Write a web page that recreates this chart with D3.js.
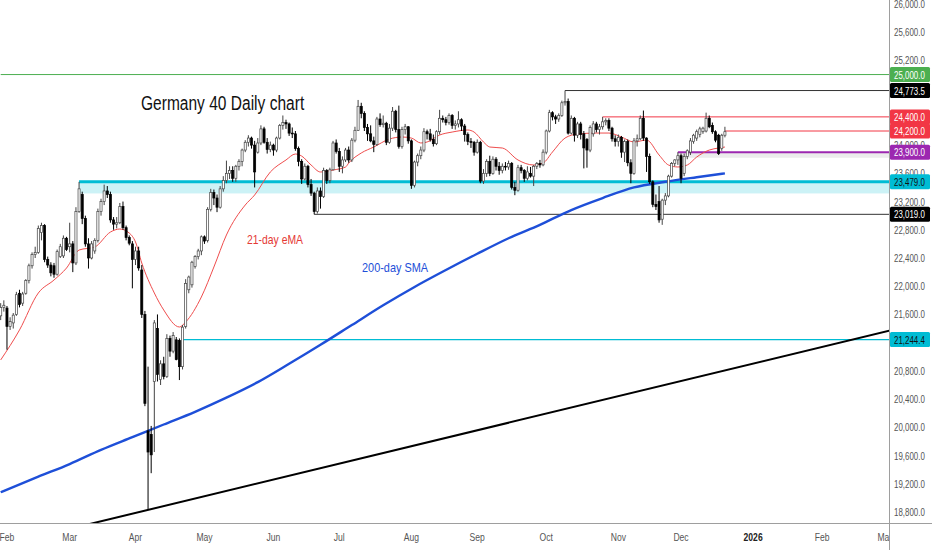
<html>
<head>
<script src="https://d3js.org/d3.v7.min.js"></script>
<style>
  body { margin: 0; background: #fff; }
  svg text { font-family: "Liberation Sans", Arial, sans-serif; }
</style>
</head>
<body>
<svg id="chart" width="932" height="550"></svg>
<script>
// ---- data ----
// daily bars, Jan 30 2025 .. Dec 19 2025 (one row per weekday): open, high, low, close
const ohlc = [
  // Jan / Feb
  [21580,21760,21520,21700],[21700,21800,21640,21730],
  [21690,21720,21100,21430],[21430,21560,21380,21500],[21480,21620,21400,21590],[21600,21920,21580,21880],[21900,21950,21700,21740],
  [21760,21920,21720,21890],[21900,22100,21880,22080],[22080,22320,22040,22290],[22290,22480,22250,22450],[22450,22560,22400,22480],
  [22480,22860,22460,22820],[22760,22900,22650,22860],[22860,22880,22340,22380],[22380,22420,22260,22300],[22300,22340,22140,22190],
  [22290,22330,22120,22170],[22170,22520,22150,22490],[22420,22600,22400,22560],[22430,22720,22400,22680],[22680,22700,22500,22520],
  // Mar
  [22560,22900,22480,22600],[22600,22640,22200,22330],[22330,23120,22300,23060],[23060,23479,23040,23380],[23300,23340,22880,22960],
  [22960,23000,22560,22600],[22600,22680,22250,22400],[22400,22640,22380,22600],[22500,22680,22460,22650],[22650,23100,22620,23060],
  [23060,23240,23000,23200],[23200,23440,23150,23350],[23350,23420,23250,23300],[23300,23340,22900,22940],[22940,22980,22800,22880],
  [22880,22980,22820,22900],[22900,23180,22880,23130],[23130,23200,22800,22830],[22830,22860,22650,22690],[22690,22720,22580,22610],
  [22600,22640,21970,22380],
  // Apr
  [22380,22560,22300,22500],[22500,22560,22220,22260],[22230,22300,21550,21600],[21600,21650,20300,20340],
  [19950,20860,18830,19650],[19900,20020,19350,19610],[20650,21520,19650,21480],[21400,21600,20650,20750],[20680,20950,20600,20900],
  [20900,21000,20680,20720],[20720,21320,20700,21260],[21260,21300,21000,21080],[21080,21350,21050,21300],[21240,21280,20950,20960],
  [21230,21260,20670,20860],[20860,21450,20820,21420],[21430,22100,21400,22040],[21950,22150,21900,22130],[22020,22360,21980,22340],
  [22280,22440,22250,22420],[22420,22530,22380,22500],[22500,22720,22440,22700],
  // May
  [22700,22720,22600,22640],[22650,23120,22620,23090],
  [23090,23380,23060,23330],[23330,23370,23150,23250],[23250,23300,23050,23120],[23120,23420,23100,23380],[23380,23560,23340,23500],
  [23500,23780,23460,23600],[23600,23700,23520,23640],[23640,23700,23480,23530],[23530,23720,23480,23700],[23700,23800,23640,23770],
  [23770,23950,23700,23930],[23930,24070,23900,24040],[24040,24140,23980,24100],[24100,24120,23950,24000],[24000,24060,23400,23620],
  [23900,24100,23880,24030],[24030,24280,24000,24230],[24230,24260,24020,24040],[24040,24100,23880,23940],[23940,24050,23900,24000],
  // Jun
  [24000,24020,23850,23930],[23930,24120,23900,24100],[24100,24300,24080,24280],[24280,24420,24220,24320],[24320,24360,24230,24300],
  [24300,24320,24130,24170],[24170,24250,24100,24160],[24160,24200,23920,23950],[23950,23980,23700,23770],[23770,23800,23450,23520],
  [23520,23740,23500,23700],[23700,23720,23400,23440],[23440,23520,23280,23320],[23320,23340,23019,23060],[23060,23400,23030,23350],
  [23350,23400,23100,23270],[23270,23680,23250,23640],[23640,23660,23450,23500],[23500,23680,23460,23650],[23650,24060,23640,24030],
  [24030,24080,23880,23910],
  // Jul
  [23910,23960,23620,23700],[23700,23840,23600,23790],[23790,23960,23760,23930],[23930,23980,23750,23790],
  [23790,24100,23760,24070],[24070,24260,24040,24210],[24210,24640,24200,24550],[24550,24600,24380,24450],[24450,24480,24200,24250],
  [24250,24300,24060,24160],[24160,24280,24040,24060],[24060,24120,23900,24010],[24010,24400,23990,24370],[24370,24450,24260,24290],
  [24290,24420,24250,24310],[24310,24330,24000,24040],[24040,24300,24020,24240],[24240,24540,24200,24480],[24480,24500,24180,24220],
  [24220,24560,23950,23980],[23980,24260,23950,24220],[24220,24300,24150,24260],[24260,24270,24020,24060],
  // Aug
  [24060,24080,23380,23430],
  [23430,23780,23400,23760],[23760,23880,23700,23850],[23850,23980,23800,23930],[23930,24240,23900,24190],[24190,24220,24080,24160],
  [24160,24230,24050,24080],[24080,24150,23980,24020],[24020,24210,24000,24190],[24190,24500,24150,24380],[24380,24420,24320,24360],
  [24360,24400,24280,24320],[24320,24450,24290,24420],[24420,24440,24230,24280],[24280,24350,24220,24300],[24300,24480,24250,24360],
  [24360,24380,24200,24270],[24270,24300,24050,24150],[24150,24180,24000,24050],[24050,24100,23960,24040],[24040,24060,23850,23900],
  // Sep
  [23900,24080,23880,24040],[24040,24060,23460,23490],[23490,23660,23450,23600],[23600,23800,23550,23770],[23770,23850,23560,23600],
  [23600,23840,23580,23800],[23800,23830,23640,23700],[23700,23760,23580,23640],[23640,23740,23600,23700],[23700,23760,23640,23690],
  [23690,23780,23650,23740],[23740,23760,23370,23400],[23400,23480,23290,23360],[23360,23720,23340,23680],[23680,23720,23600,23640],
  [23640,23660,23480,23530],[23530,23700,23500,23620],[23600,23690,23540,23560],[23560,23720,23420,23700],[23700,23760,23660,23740],
  [23740,23790,23680,23720],[23720,23940,23700,23900],
  // Oct
  [23900,24220,23870,24200],[24200,24500,24180,24460],[24460,24480,24350,24400],
  [24400,24430,24300,24370],[24370,24450,24330,24420],[24420,24630,24400,24600],[24600,24773.5,24560,24620],[24620,24660,24150,24170],
  [24170,24420,24150,24380],[24380,24400,24050,24140],[24140,24330,24100,24300],[24300,24330,24080,24150],[24160,24200,23670,23960],
  [24080,24100,23680,23930],[23930,24280,23900,24250],[24160,24340,24120,24300],[24300,24330,24180,24220],[24220,24300,24150,24260],
  [24260,24400,24220,24330],[24330,24380,24280,24350],[24350,24380,24200,24240],[24240,24260,24050,24090],[24090,24140,23980,24050],
  // Nov
  [24050,24150,23980,24110],[24110,24130,23820,23900],[23900,24080,23760,24050],[24050,24080,23700,23750],[23750,23800,23460,23600],
  [23600,24100,23580,24060],[24060,24150,23980,24090],[24090,24420,24070,24380],[24380,24490,24060,24100],[24100,24110,23620,23840],
  [23840,23880,23450,23480],[23480,23500,23120,23160],[23160,23300,23080,23130],[23200,23420,22900,22940],[22950,23240,22870,23220],
  [23220,23320,23150,23280],[23280,23580,23260,23560],[23560,23760,23540,23740],[23740,23800,23700,23790],[23790,23900,23720,23850],
  // Dec
  [23850,23880,23460,23530],[23600,23880,23560,23840],[23840,23940,23800,23920],[23900,24100,23860,24060],[24050,24160,24020,24140],
  [24100,24220,24060,24190],[24150,24260,24110,24230],[24190,24260,24160,24240],[24200,24460,24180,24380],[24380,24420,24240,24260],
  [24280,24320,24160,24190],[24190,24210,24040,24070],[24140,24160,23860,23880],[23950,24160,23920,24140],[24140,24260,24110,24190]
];
const firstDay = '2025-01-30';   // date of ohlc[0]
const lastTickDay = '2026-03-06';

// 200-day SMA, read at bar positions [bar, value]
const smaPts = [[0,19080],[12,19300],[22,19480],[32,19680],[42,19860],[52,20040],[62,20220],[72,20420],[82,20640],
  [92,20900],[102,21170],[112,21450],[122,21730],[132,21990],[142,22230],[152,22460],[162,22680],[172,22870],
  [182,23080],[192,23250],[202,23400],[212,23480],[222,23545],[231,23600]];
// 21-day EMA, read at bar positions [bar, value]
const emaPts = [[0,20955],[6,21380],[12,21904],[17,22088],[21,22258],[25,22513],[30,22556],[35,22768],[38,22811],
  [41,22754],[43,22627],[45,22329],[49,21904],[52,21663],[57,21422],[59,21493],[64,21847],[68,22272],[72,22726],
  [78,23151],[81,23293],[86,23619],[91,23789],[94,23874],[96,23845],[99,23718],[102,23619],[106,23647],[110,23689],
  [111,23746],[115,23888],[119,23973],[124,24086],[128,24115],[131,24100],[134,24030],[136,24044],[140,24143],
  [144,24185],[149,24214],[151,24185],[154,24044],[156,23973],[160,23959],[165,23789],[170,23718],[173,23746],
  [176,23902],[180,24100],[184,24157],[190,24171],[194,24171],[198,24115],[202,24044],[206,24072],[210,23860],
  [213,23718],[216,23690],[219,23718],[222,23831],[226,23930],[229,23959],[231,23973]];

// horizontal levels: price and the bar they start from
const levelPrices = [25000, 24773.5, 24400, 24200, 23900, 23479, 23019, 21244.4];
const levelStart  = [0, 180, 192, 231, 216, 25, 100, 58];
const zoneLow = 23315;       // bottom of the shaded 23,479 zone
const greyZoneLow = 23820;   // bottom of the grey strip under 23,900
// rising trend line through two [bar, price] anchors
const trendPts = [[47, 18830], [283, 21366]];

const priceTicks = d3.range(18800, 26001, 400);
const title = 'Germany 40 Daily chart';

// ---- layout ----
const svg = d3.select('#chart');
const W = 932, H = 550;
const plotR = 889, plotB = 523;

const x = d3.scaleLinear().domain([0, 282]).range([0.7, 884.8]);
const y = d3.scaleLinear().domain([18800, 26000]).range([512, 4]);
const fmtPrice = d3.format(',.1f');

// weekday calendar for the bar index -> date
const parse = d3.timeParse('%Y-%m-%d');
const days = [];
for (let d = parse(firstDay); d <= parse(lastTickDay); d = d3.timeDay.offset(d, 1)) {
  if (d.getDay() !== 0 && d.getDay() !== 6) days.push(new Date(d));
}
const monthTicks = [];
days.forEach((d, i) => {
  if (i > 0 && d.getMonth() !== days[i - 1].getMonth()) monthTicks.push(i);
});

// text drawn in a condensed look: squeeze horizontally around its anchor
function label(g, tx, ty, str, size, sx) {
  return g.append('text')
    .attr('transform', `translate(${tx},${ty}) scale(${sx},1)`)
    .attr('font-size', size).text(str);
}

svg.append('defs').append('clipPath').attr('id', 'plot')
  .append('rect').attr('x', 0).attr('y', 0).attr('width', plotR).attr('height', plotB);
svg.select('defs').append('clipPath').attr('id', 'xlab')
  .append('rect').attr('x', 0).attr('y', plotB).attr('width', plotR).attr('height', H - plotB);

const plot = svg.append('g').attr('clip-path', 'url(#plot)');

// zones
plot.append('rect')
  .attr('x', x(levelStart[5])).attr('width', plotR - x(levelStart[5]))
  .attr('y', y(23479)).attr('height', y(zoneLow) - y(23479))
  .attr('fill', '#00bcd4').attr('opacity', 0.2);
plot.append('rect')
  .attr('x', x(levelStart[4])).attr('width', plotR - x(levelStart[4]))
  .attr('y', y(23900)).attr('height', y(greyZoneLow) - y(23900))
  .attr('fill', '#9e9e9e').attr('opacity', 0.2);

// level lines
const levelColor = ['#4caf50', '#333', '#f23645', '#f23645', '#9c27b0', '#00bcd4', '#333', '#00bcd4'];
const levelWidth = [1, 1, 1, 1, 2, 3, 1, 1.2];
const levelBadge = ['#4caf50', '#000', '#f23645', '#f23645', '#9c27b0', '#00bcd4', '#000', '#00bcd4'];
const badgeText  = ['#fff', '#fff', '#fff', '#fff', '#fff', '#111', '#fff', '#111'];

levelPrices.forEach((p, i) => {
  plot.append('line')
    .attr('x1', x(levelStart[i])).attr('x2', plotR)
    .attr('y1', y(p)).attr('y2', y(p))
    .attr('stroke', levelColor[i]).attr('stroke-width', levelWidth[i]);
});

// moving averages
const line = d3.line().x(d => x(d[0])).y(d => y(d[1])).curve(d3.curveMonotoneX);
plot.append('path').datum(smaPts).attr('d', line)
  .attr('fill', 'none').attr('stroke', '#1e4fd8').attr('stroke-width', 2.4);
plot.append('path').datum(emaPts).attr('d', line)
  .attr('fill', 'none').attr('stroke', '#ef4d4d').attr('stroke-width', 1);

// trend line
const slope = (trendPts[1][1] - trendPts[0][1]) / (trendPts[1][0] - trendPts[0][0]);
const tAt = k => trendPts[0][1] + slope * (k - trendPts[0][0]);
plot.append('line')
  .attr('x1', x(0)).attr('y1', y(tAt(0)))
  .attr('x2', x(300)).attr('y2', y(tAt(300)))
  .attr('stroke', '#000').attr('stroke-width', 2);

// candles
const bw = 2.1;
const candles = plot.append('g');
ohlc.forEach((d, k) => {
  const [o, h, l, c] = d;
  const up = c >= o;
  const cx = x(k);
  candles.append('line')
    .attr('x1', cx).attr('x2', cx).attr('y1', y(h)).attr('y2', y(l))
    .attr('stroke', up ? '#444' : '#000').attr('stroke-width', 1);
  const top = y(Math.max(o, c)), bot = y(Math.min(o, c));
  candles.append('rect')
    .attr('x', cx - bw / 2).attr('y', top)
    .attr('width', bw).attr('height', Math.max(bot - top, 0.8))
    .attr('fill', up ? '#fff' : '#000')
    .attr('stroke', up ? '#444' : '#000').attr('stroke-width', 0.7);
});

// annotations
label(plot, 141, 110, title, 21, 0.74).attr('fill', '#111');
label(plot, 247, 244, '21-day eMA', 13, 0.8).attr('fill', '#e53935');
label(plot, 362, 272, '200-day SMA', 13, 0.84).attr('fill', '#1e4fd8');

// frame
svg.append('line').attr('x1', 0).attr('x2', W).attr('y1', plotB + 0.5).attr('y2', plotB + 0.5)
  .attr('stroke', '#9e9e9e');
svg.append('line').attr('x1', plotR + 0.5).attr('x2', plotR + 0.5).attr('y1', 0).attr('y2', H)
  .attr('stroke', '#9e9e9e');

// price axis (labels sitting fully under a level badge are not shown)
const yAxis = svg.append('g');
priceTicks
  .filter(p => levelPrices.every(l => Math.abs(y(p) - y(l)) >= 5))
  .forEach(p => {
    label(yAxis, 894, y(p) + 4, fmtPrice(p), 11, 0.72).attr('fill', '#555');
  });
levelPrices.forEach((p, i) => {
  yAxis.append('rect').attr('x', plotR + 1).attr('y', y(p) - 7.5)
    .attr('width', 40).attr('height', 15).attr('rx', 1.5).attr('fill', levelBadge[i]);
  label(yAxis, 894, y(p) + 4, fmtPrice(p), 11, 0.72).attr('fill', badgeText[i]);
});

// time axis
const fmtMonth = d3.timeFormat('%b');
const xAxis = svg.append('g').attr('clip-path', 'url(#xlab)');
[0].concat(monthTicks).forEach(k => {
  const d = days[k];
  if (k === 0 && d.getDate() > 3) return;
  const isYear = d.getMonth() === 0;
  label(xAxis, x(k), 541, isYear ? d.getFullYear() : fmtMonth(d), 11, 0.78)
    .attr('text-anchor', 'middle')
    .attr('font-weight', isYear ? 'bold' : 'normal')
    .attr('fill', isYear ? '#222' : '#555');
});
</script>
</body>
</html>
